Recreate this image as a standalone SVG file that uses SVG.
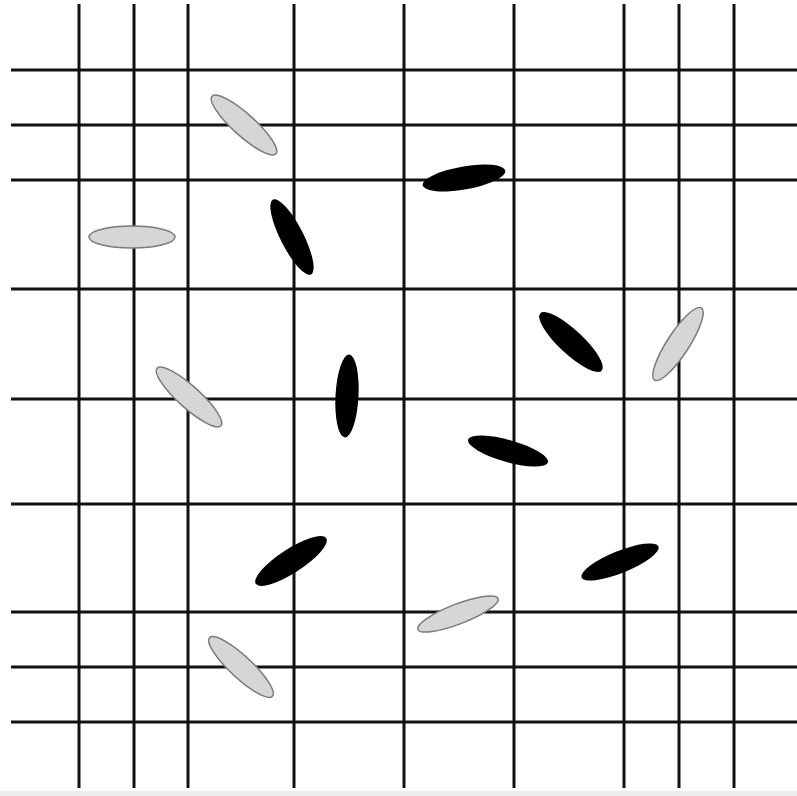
<svg xmlns="http://www.w3.org/2000/svg" width="797" height="796" viewBox="0 0 797 796">
<style>
.g line{stroke:#111;stroke-width:3}
.gray{fill:#d6d6d6;stroke:#7a7a7a;stroke-width:1.5}
.blk{fill:#000}
</style>
<rect width="797" height="796" fill="#fff"/>
<rect x="0" y="791" width="797" height="5" fill="#eeeeee"/>
<g class="g" id="grid">
<line x1="79" y1="4" x2="79" y2="788"/>
<line x1="134" y1="4" x2="134" y2="788"/>
<line x1="188" y1="4" x2="188" y2="788"/>
<line x1="294" y1="4" x2="294" y2="788"/>
<line x1="404" y1="4" x2="404" y2="788"/>
<line x1="514" y1="4" x2="514" y2="788"/>
<line x1="624" y1="4" x2="624" y2="788"/>
<line x1="679" y1="4" x2="679" y2="788"/>
<line x1="734" y1="4" x2="734" y2="788"/>
<line x1="11" y1="70" x2="797" y2="70"/>
<line x1="11" y1="125" x2="797" y2="125"/>
<line x1="11" y1="180" x2="797" y2="180"/>
<line x1="11" y1="289" x2="797" y2="289"/>
<line x1="11" y1="399" x2="797" y2="399"/>
<line x1="11" y1="504" x2="797" y2="504"/>
<line x1="11" y1="612" x2="797" y2="612"/>
<line x1="11" y1="667" x2="797" y2="667"/>
<line x1="11" y1="722" x2="797" y2="722"/>
</g>
<g id="gray-ellipses">
<ellipse class="gray" cx="0" cy="0" rx="43" ry="11" transform="translate(244,125) rotate(42)"/>
<ellipse class="gray" cx="132" cy="237" rx="43" ry="11"/>
<ellipse class="gray" cx="0" cy="0" rx="43" ry="11" transform="translate(189,397) rotate(42)"/>
<ellipse class="gray" cx="0" cy="0" rx="43" ry="11" transform="translate(678,344) rotate(-57)"/>
<ellipse class="gray" cx="0" cy="0" rx="43" ry="10" transform="translate(458,614) rotate(-21)"/>
<ellipse class="gray" cx="0" cy="0" rx="43" ry="11" transform="translate(241,667) rotate(43)"/>
</g>
<g id="black-ellipses">
<ellipse class="blk" cx="0" cy="0" rx="42" ry="11.5" transform="translate(464,178) rotate(-10)"/>
<ellipse class="blk" cx="0" cy="0" rx="42" ry="11.5" transform="translate(292,237) rotate(63)"/>
<ellipse class="blk" cx="0" cy="0" rx="42" ry="12" transform="translate(571,342) rotate(43)"/>
<ellipse class="blk" cx="0" cy="0" rx="41.5" ry="11.5" transform="translate(347,396) rotate(93)"/>
<ellipse class="blk" cx="0" cy="0" rx="41.5" ry="11" transform="translate(508,451) rotate(16)"/>
<ellipse class="blk" cx="0" cy="0" rx="42" ry="12" transform="translate(291,561) rotate(-33)"/>
<ellipse class="blk" cx="0" cy="0" rx="41.5" ry="11" transform="translate(620,562) rotate(-22)"/>
</g>
</svg>
